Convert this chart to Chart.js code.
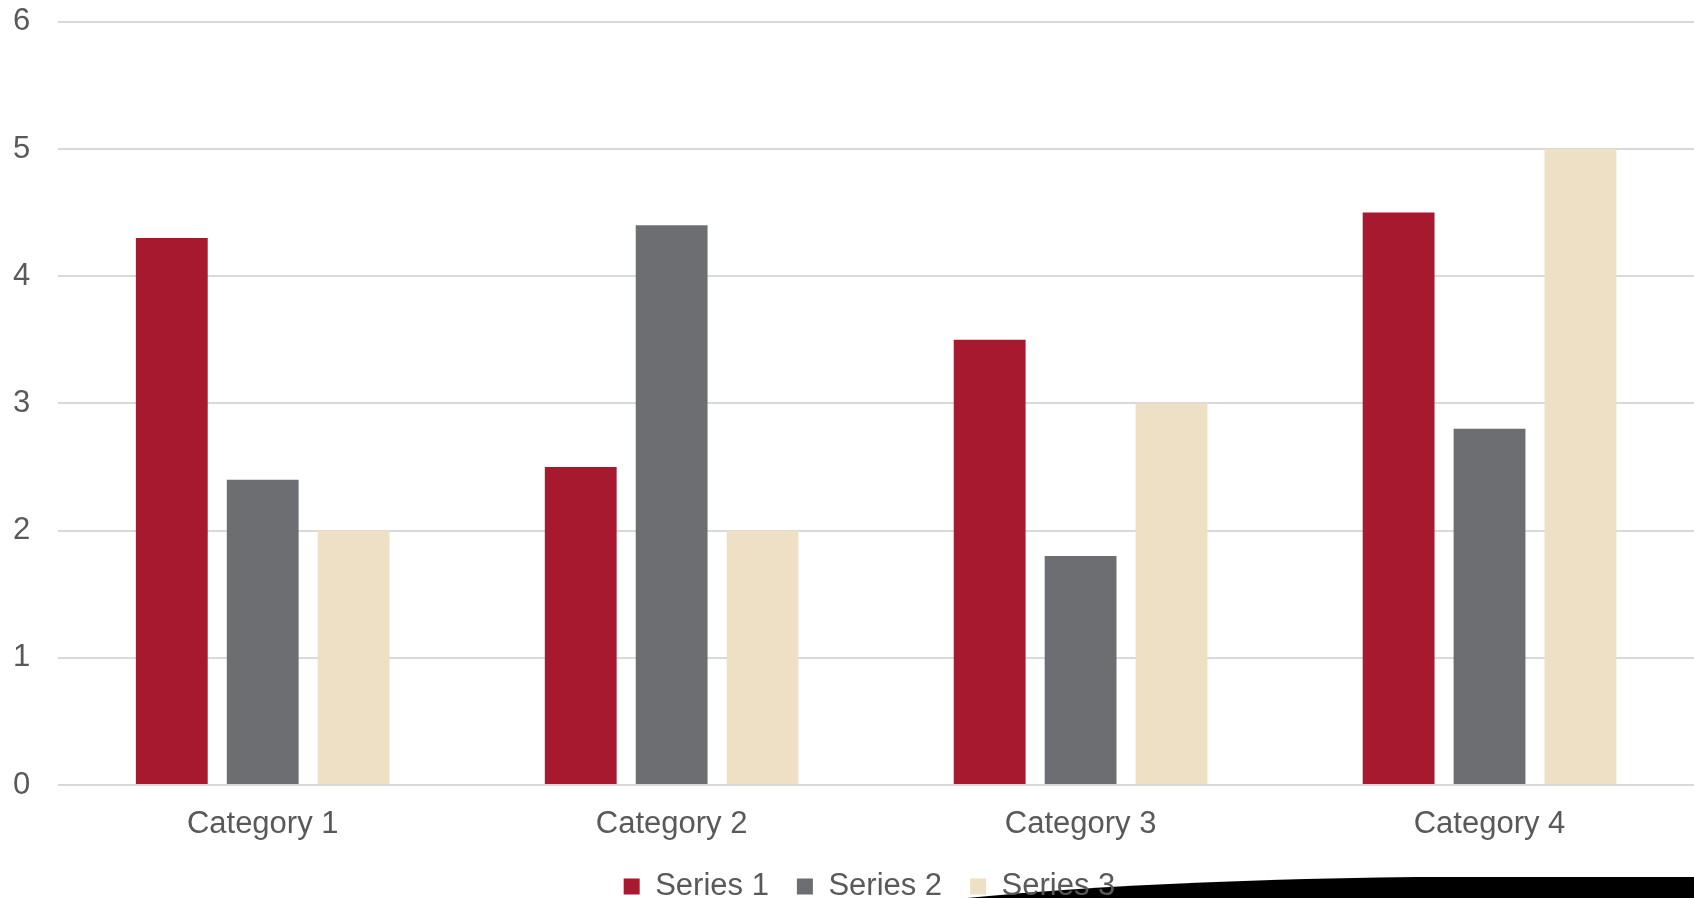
<!DOCTYPE html>
<html>
<head>
<meta charset="utf-8">
<script src="https://cdn.jsdelivr.net/npm/chart.js@4"></script>
<style>
  html, body { margin: 0; padding: 0; background: #fff; }
  #wrap { position: relative; width: 1694px; height: 898px; }
  #curl { position: absolute; left: 0; top: 0; }
  #chart { position: absolute; left: 0; top: 0; }
</style>
</head>
<body>
<div id="wrap">
  <svg id="curl" width="1694" height="898">
    <path d="M 967 898 Q 1150 880 1417 877 L 1694 877 L 1694 898 Z" fill="#000"/>
  </svg>
  <canvas id="chart" width="1694" height="898"></canvas>
</div>
<script>
const categories = ["Category 1", "Category 2", "Category 3", "Category 4"];
const seriesNames = ["Series 1", "Series 2", "Series 3"];
const series1 = [4.3, 2.5, 3.5, 4.5];
const series2 = [2.4, 4.4, 1.8, 2.8];
const series3 = [2.0, 2.0, 3.0, 5.0];
const colors = ["#A6192E", "#6D6E71", "#EEE0C4"];

const fontFamily = "'Liberation Sans', Arial, sans-serif";
const font = { family: fontFamily, size: 31 };
const textColor = "#595959";

// nudge the legend a bit right, like the original slide
const legendShift = {
  id: "legendShift",
  afterLayout(chart) {
    chart.legend.left += 16;
    chart.legend.right += 16;
  }
};

new Chart(document.getElementById("chart"), {
  type: "bar",
  data: {
    labels: categories,
    datasets: [series1, series2, series3].map((d, i) => ({
      label: seriesNames[i],
      data: d,
      backgroundColor: colors[i],
      categoryPercentage: 0.667,
      barPercentage: 0.79
    }))
  },
  plugins: [legendShift],
  options: {
    responsive: false,
    animation: false,
    layout: { padding: { left: 13, top: 0, right: 0, bottom: -14 } },
    plugins: {
      tooltip: { enabled: false },
      legend: {
        position: "bottom",
        labels: { font: font, color: textColor, boxWidth: 16, boxHeight: 16, padding: 28 }
      }
    },
    scales: {
      x: {
        clip: false,
        grid: { display: false },
        border: { display: false },
        ticks: { font: font, color: textColor, padding: 13 },
        afterFit(scale) { scale.height = 58; }
      },
      y: {
        min: 0,
        max: 6,
        ticks: {
          stepSize: 1,
          font: { family: fontFamily, size: 31, lineHeight: 0.5 },
          color: textColor,
          padding: 14,
          crossAlign: "far"
        },
        grid: { color: "#d9d9d9", lineWidth: 2, drawTicks: false },
        border: { display: false }
      }
    }
  }
});
</script>
</body>
</html>
